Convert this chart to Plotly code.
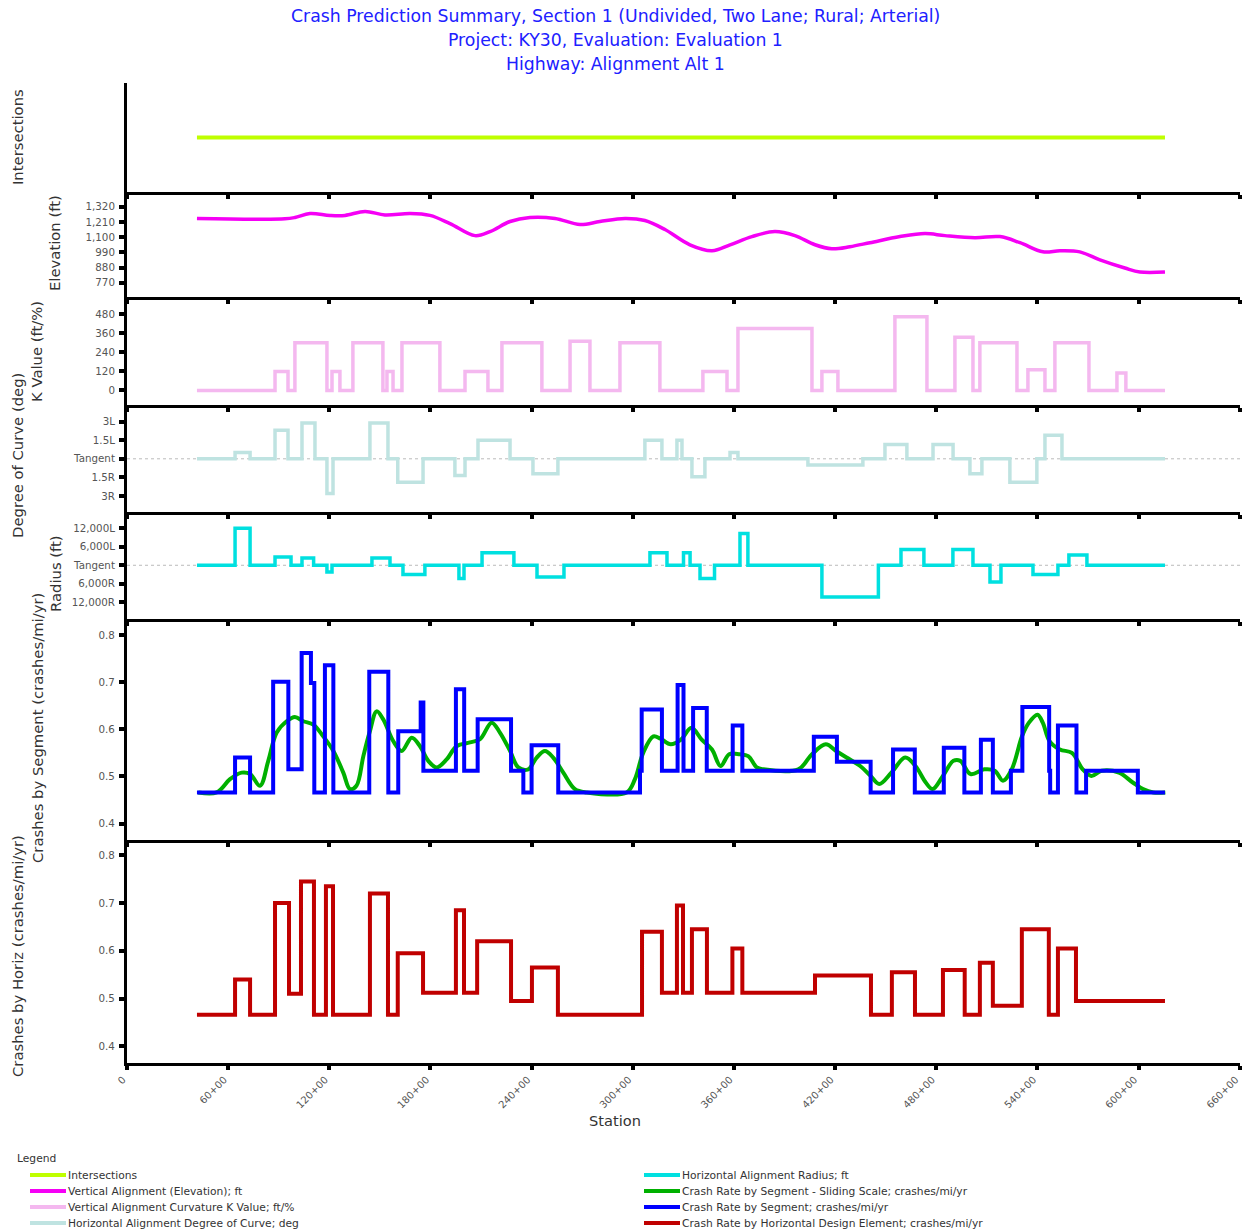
import plotly.graph_objects as go

# ---------------- DATA ----------------
x_tick_vals = [0, 60, 120, 180, 240, 300, 360, 420, 480, 540, 600, 660]
x_tick_text = ["0", "60+00", "120+00", "180+00", "240+00", "300+00", "360+00",
               "420+00", "480+00", "540+00", "600+00", "660+00"]

inter_x = [41.5, 615.7]
inter_y = [0, 0]

elev_x = [41.5, 93.7, 99.6, 108.5, 120.4, 129.3, 141.2, 153.0, 167.9, 179.7, 191.6,
          206.4, 215.3, 227.2, 239.0, 253.9, 268.7, 280.5, 295.4, 307.2, 319.1,
          333.9, 347.0, 357.7, 370.7, 384.3, 396.2, 408.1, 418.1, 428.8, 440.7,
          458.5, 473.3, 485.2, 503.0, 517.8, 529.7, 543.3, 553.4, 565.2, 577.1,
          591.9, 600.8, 615.7]
elev_y = [1235, 1232, 1242, 1271, 1257, 1257, 1286, 1260, 1271, 1257, 1198,
          1111, 1140, 1213, 1242, 1235, 1191, 1213, 1235, 1220, 1155,
          1045, 1002, 1045, 1104, 1140, 1111, 1045, 1016, 1031, 1060,
          1104, 1126, 1111, 1096, 1104, 1060, 994, 1002, 994, 936,
          877, 848, 848]
elev_tick_vals = [770, 880, 990, 1100, 1210, 1320]
elev_tick_text = ["770", "880", "990", "1,100", "1,210", "1,320"]

k_breaks = [41.5, 87.8, 95.5, 99.6, 118.6, 121.6, 126.3, 134.0, 151.8, 154.2, 157.8,
            163.1, 185.6, 200.5, 214.1, 222.4, 246.1, 262.8, 274.6, 292.4, 316.1,
            341.6, 355.9, 362.4, 406.3, 412.2, 421.7, 455.5, 474.5, 491.1, 501.8,
            505.9, 527.9, 534.4, 544.5, 550.4, 570.6, 587.2, 592.5, 615.7]
k_vals = [0, 120, 0, 300, 0, 120, 0, 300, 0, 120,
          0, 300, 0, 120, 0, 300, 0, 310, 0, 300,
          0, 120, 0, 390, 0, 120, 0, 465, 0, 335,
          0, 300, 0, 130, 0, 300, 0, 110, 0]
k_tick_vals = [0, 120, 240, 360, 480]
k_tick_text = ["0", "120", "240", "360", "480"]

doc_breaks = [41.5, 64.1, 73.0, 87.8, 95.5, 103.8, 111.5, 118.6, 122.2, 144.1, 154.8,
              160.6, 175.6, 194.5, 200.5, 208.2, 227.2, 240.8, 255.6, 307.2, 317.3,
              326.2, 329.2, 335.1, 342.8, 357.7, 362.4, 403.9, 436.5, 449.6, 462.6,
              478.1, 490.0, 500.0, 507.1, 523.7, 539.7, 544.5, 554.6, 615.7]
doc_vals = [0, 0.5, 0, 2.3, 0, 2.9, 0, -2.8, 0, 2.9,
            0, -1.9, 0, -1.35, 0, 1.5, 0, -1.2, 0, 1.5,
            0, 1.5, 0, -1.45, 0, 0.5, 0, -0.5, 0, 1.15,
            0, 1.15, 0, -1.2, 0, -1.9, 0, 1.9, 0]
doc_tick_vals = [3, 1.5, 0, -1.5, -3]
doc_tick_text = ["3L", "1.5L", "Tangent", "1.5R", "3R"]

rad_breaks = [41.5, 64.1, 73.0, 87.8, 97.3, 103.8, 110.7, 118.6, 121.6, 145.3, 156.0,
              163.7, 176.7, 196.9, 199.9, 210.6, 229.5, 243.2, 259.2, 310.2, 320.3,
              330.1, 334.0, 339.9, 348.5, 363.6, 368.3, 412.2, 445.7, 459.1, 472.7,
              489.9, 501.8, 511.9, 518.4, 537.4, 552.2, 558.7, 569.4, 615.7]
rad_vals = [0, 12000, 0, 2700, 0, 2400, 0, -2200, 0, 2400,
            0, -3000, 0, -4300, 0, 4100, 0, -3800, 0, 4100,
            0, 4100, 0, -4300, 0, 10300, 0, -10300, 0, 5100,
            0, 5100, 0, -5400, 0, -3000, 0, 3300, 0]
rad_tick_vals = [12000, 6000, 0, -6000, -12000]
rad_tick_text = ["12,000L", "6,000L", "Tangent", "6,000R", "12,000R"]

seg_breaks = [41.5, 64.1, 73.0, 86.7, 95.7, 103.6, 109.1, 111.1, 117.4, 122.4, 143.7,
              155.0, 160.9, 174.2, 175.8, 195.1, 200.0, 208.0, 227.8, 235.1, 240.0,
              255.8, 304.3, 305.3, 317.3, 326.6, 330.1, 335.8, 343.9, 359.3, 365.0,
              407.4, 421.1, 441.1, 454.4, 467.3, 484.5, 496.7, 506.5, 513.6, 524.3,
              531.1, 547.0, 547.6, 552.2, 563.2, 568.9, 599.6, 615.7]
seg_vals = [0.466, 0.540, 0.466, 0.701, 0.515, 0.762, 0.698, 0.466, 0.736, 0.466,
            0.722, 0.466, 0.596, 0.657, 0.512, 0.685, 0.512, 0.621, 0.512, 0.466,
            0.566, 0.466, 0.512, 0.642, 0.512, 0.694, 0.512, 0.645, 0.512, 0.608,
            0.512, 0.584, 0.531, 0.466, 0.557, 0.466, 0.561, 0.466, 0.578, 0.466,
            0.512, 0.647, 0.512, 0.466, 0.608, 0.466, 0.512, 0.466]

slide_x = [42.3, 53.2, 61.1, 68.0, 73.0, 78.9, 83.8, 88.8, 94.7, 99.6, 104.6, 110.5,
           116.4, 122.4, 128.3, 132.3, 136.1, 140.2, 144.1, 148.1, 152.0, 157.9,
           162.9, 168.9, 173.8, 178.7, 183.7, 189.6, 195.5, 203.4, 209.4, 216.3,
           221.2, 227.2, 232.1, 238.0, 243.0, 247.9, 252.8, 258.8, 265.7, 272.7,
           296.4, 301.3, 306.2, 312.2, 316.5, 322.5, 328.6, 334.8, 340.9, 347.0,
           352.1, 357.2, 363.4, 368.5, 373.6, 377.5, 398.2, 406.3, 414.5, 420.6,
           426.8, 434.9, 441.1, 446.2, 453.4, 461.6, 467.7, 473.8, 477.9, 484.0,
           490.2, 494.3, 500.4, 508.6, 514.7, 519.6, 524.8, 530.9, 535.0, 540.1,
           543.2, 547.2, 553.4, 560.5, 566.9, 572.0, 578.1, 588.4, 596.6, 602.7,
           608.8, 615.9]
slide_y = [0.466, 0.466, 0.494, 0.508, 0.505, 0.480, 0.533, 0.593, 0.617, 0.626, 0.617, 0.610,
           0.585, 0.554, 0.508, 0.473, 0.480, 0.543, 0.596, 0.638, 0.621, 0.575,
           0.554, 0.582, 0.564, 0.533, 0.519, 0.536, 0.564, 0.572, 0.579, 0.614,
           0.593, 0.554, 0.519, 0.515, 0.540, 0.554, 0.540, 0.508, 0.473, 0.466,
           0.466, 0.494, 0.550, 0.585, 0.580, 0.568, 0.578, 0.603, 0.578, 0.557,
           0.522, 0.547, 0.547, 0.543, 0.519, 0.515, 0.515, 0.547, 0.568, 0.554,
           0.540, 0.522, 0.501, 0.484, 0.508, 0.540, 0.522, 0.487, 0.473, 0.501,
           0.533, 0.533, 0.505, 0.515, 0.512, 0.491, 0.515, 0.585, 0.614, 0.631,
           0.614, 0.575, 0.557, 0.550, 0.515, 0.501, 0.512, 0.508, 0.487, 0.473,
           0.466, 0.466]

hor_breaks = [41.5, 64.1, 73.0, 87.8, 96.1, 103.2, 110.9, 118.0, 122.2, 144.1, 154.8,
              160.6, 175.6, 195.1, 199.9, 207.7, 227.8, 240.2, 255.6, 305.5, 317.3,
              326.2, 329.8, 335.1, 344.0, 359.1, 365.0, 408.1, 441.3, 453.7, 467.4,
              484.0, 496.9, 505.9, 513.6, 530.8, 546.8, 552.2, 562.9, 615.7]
hor_vals = [0.466, 0.540, 0.466, 0.700, 0.510, 0.745, 0.466, 0.735, 0.466, 0.720,
            0.466, 0.595, 0.512, 0.685, 0.512, 0.620, 0.495, 0.565, 0.466, 0.640,
            0.512, 0.695, 0.512, 0.645, 0.512, 0.605, 0.512, 0.548, 0.466, 0.555,
            0.466, 0.560, 0.466, 0.575, 0.485, 0.645, 0.466, 0.605, 0.495]
crash_tick_vals = [0.4, 0.5, 0.6, 0.7, 0.8]
crash_tick_text = ["0.4", "0.5", "0.6", "0.7", "0.8"]

legend_names = ["Intersections", "Vertical Alignment (Elevation); ft",
                "Vertical Alignment Curvature K Value; ft/%",
                "Horizontal Alignment Degree of Curve; deg",
                "Horizontal Alignment Radius; ft",
                "Crash Rate by Segment - Sliding Scale; crashes/mi/yr",
                "Crash Rate by Segment; crashes/mi/yr",
                "Crash Rate by Horizontal Design Element; crashes/mi/yr"]

# ---------------- STYLE ----------------
FONT = "DejaVu Sans, Verdana, sans-serif"
C_INT = "#bfff00"
C_ELEV = "#f500f5"
C_K = "#f4b8ef"
C_DOC = "#bfe3e1"
C_RAD = "#00e0e0"
C_SLIDE = "#00b000"
C_SEG = "#0000ff"
C_HOR = "#c00000"
colors = [C_INT, C_ELEV, C_K, C_DOC, C_RAD, C_SLIDE, C_SEG, C_HOR]

W, H = 1243, 1232
L, R, T, B = 127, 3, 83, 169
PW = W - L - R
PH = H - T - B


def px(xp):
    return (xp - L) / PW


def py(yp):
    return (H - B - yp) / PH


# panel pixel boundaries in screen coords (top, bottom)
panels = [(83, 192), (192, 297), (297, 405), (405, 512), (512, 619), (619, 840), (840, 1063)]
domains = [[max(0.0, py(b)), min(1.0, py(t))] for t, b in panels]


def step(breaks, vals):
    return list(breaks), list(vals) + [vals[-1]]


fig = go.Figure()


def ax(i):
    return ("x" if i == 1 else f"x{i}"), ("y" if i == 1 else f"y{i}")


def add(i, x, y, color, width, shape):
    xa, ya = ax(i)
    fig.add_trace(go.Scatter(x=x, y=y, mode="lines", xaxis=xa, yaxis=ya,
                             line=dict(color=color, width=width, shape=shape),
                             showlegend=False, hoverinfo="skip"))


add(1, inter_x, inter_y, C_INT, 4, "linear")
add(2, elev_x, elev_y, C_ELEV, 3.5, "spline")
kx, ky = step(k_breaks, k_vals)
add(3, kx, ky, C_K, 3.5, "hv")
dx, dy = step(doc_breaks, doc_vals)
add(4, dx, dy, C_DOC, 3.5, "hv")
rx, ry = step(rad_breaks, rad_vals)
add(5, rx, ry, C_RAD, 3.5, "hv")
add(6, slide_x, slide_y, C_SLIDE, 4, "spline")
sx, sy = step(seg_breaks, seg_vals)
add(6, sx, sy, C_SEG, 4, "hv")
hx, hy = step(hor_breaks, hor_vals)
add(7, hx, hy, C_HOR, 4, "hv")

layout = dict(
    width=W, height=H, template="none",
    margin=dict(l=L, r=R, t=T, b=B, pad=0),
    paper_bgcolor="white", plot_bgcolor="white",
    font=dict(family=FONT, size=10, color="#555555"),
    showlegend=False,
)

y_ranges = [[-1, 1], [668, 1426], [-92, 589], [-4.3, 4.35], [-17450, 17300],
            [0.365, 0.834], [0.365, 0.832]]
y_ticks = [None, (elev_tick_vals, elev_tick_text), (k_tick_vals, k_tick_text),
           (doc_tick_vals, doc_tick_text), (rad_tick_vals, rad_tick_text),
           (crash_tick_vals, crash_tick_text), (crash_tick_vals, crash_tick_text)]

for i in range(1, 8):
    xk = "xaxis" if i == 1 else f"xaxis{i}"
    yk = "yaxis" if i == 1 else f"yaxis{i}"
    xa, ya = ax(i)
    xd = dict(domain=[0, 1], range=[0, 660.2], anchor=ya, showline=True,
              linecolor="black", linewidth=3, ticks="outside", ticklen=4,
              tickwidth=4, tickcolor="black", tickvals=x_tick_vals,
              showgrid=False, zeroline=False, automargin=False,
              showticklabels=(i == 7))
    if i > 1:
        xd["matches"] = "x"
    if i == 7:
        xd.update(ticktext=x_tick_text, tickangle=-45, ticklabeloverflow="allow",
                  ticklabelshift=-4,
                  tickfont=dict(size=10, color="#555555", family=FONT))
    yd = dict(domain=domains[i - 1], range=y_ranges[i - 1], anchor=xa,
              showline=True, linecolor="black", linewidth=3, showgrid=False,
              zeroline=False, automargin=False)
    if y_ticks[i - 1] is None:
        yd.update(ticks="", showticklabels=False)
    else:
        tv, tt = y_ticks[i - 1]
        yd.update(tickvals=tv, ticktext=tt, ticks="outside", ticklen=5,
                  tickwidth=4, tickcolor="black", ticklabelstandoff=2,
                  tickfont=dict(size=10.3, color="#555555", family=FONT))
    layout[xk] = xd
    layout[yk] = yd

fig.update_layout(**layout)

# tangent dotted lines
for i in (4, 5):
    fig.add_shape(type="line", xref=f"x{i} domain", yref=f"y{i}", x0=0, x1=1.01,
                  y0=0, y1=0, line=dict(color="#bbbbbb", width=1, dash="dot"),
                  layer="below")

annotations = []
# title
for txt, yp in [("Crash Prediction Summary, Section 1 (Undivided, Two Lane; Rural; Arterial)", 16),
                ("Project: KY30, Evaluation: Evaluation 1", 40),
                ("Highway: Alignment Alt 1", 64)]:
    annotations.append(dict(text=txt, xref="paper", yref="paper", x=px(615), y=py(yp),
                            xanchor="center", yanchor="middle", showarrow=False,
                            font=dict(size=17.3, color="#2020ff", family=FONT)))

# y axis titles
for txt, xp, yp in [("Intersections", 17, 137), ("Elevation (ft)", 55, 243),
                    ("K Value (ft/%)", 37, 352), ("Degree of Curve (deg)", 17, 456),
                    ("Radius (ft)", 55, 574),
                    ("Crashes by Segment (crashes/mi/yr)", 37, 728),
                    ("Crashes by Horiz (crashes/mi/yr)", 17, 956)]:
    annotations.append(dict(text=txt, xref="paper", yref="paper", x=px(xp), y=py(yp),
                            xanchor="center", yanchor="middle", textangle=-90,
                            showarrow=False,
                            font=dict(size=14.8, color="#333333", family=FONT)))

annotations.append(dict(text="Station", xref="paper", yref="paper", x=px(615), y=py(1120),
                        xanchor="center", yanchor="middle", showarrow=False,
                        font=dict(size=14.6, color="#333333", family=FONT)))

# legend
annotations.append(dict(text="Legend", xref="paper", yref="paper", x=px(15), y=py(1158),
                        xanchor="left", yanchor="middle", showarrow=False,
                        font=dict(size=10.7, color="#333333", family=FONT)))
rows_y = [1175, 1191, 1207, 1223]
for j, (name, col) in enumerate(zip(legend_names, colors)):
    if j < 4:
        x0, x1 = 30, 66
    else:
        x0, x1 = 644, 680
    yp = rows_y[j % 4]
    fig.add_shape(type="line", xref="paper", yref="paper", x0=px(x0), x1=px(x1),
                  y0=py(yp), y1=py(yp), line=dict(color=col, width=4))
    annotations.append(dict(text=name, xref="paper", yref="paper", x=px(x1), y=py(yp),
                            xanchor="left", yanchor="middle", showarrow=False,
                            font=dict(size=10.7, color="#333333", family=FONT)))

fig.update_layout(annotations=annotations)
fig.write_html(
    "out.html",
    config={"displayModeBar": False},
    post_script="document.body.style.margin='0';document.body.style.overflow='hidden';",
)
